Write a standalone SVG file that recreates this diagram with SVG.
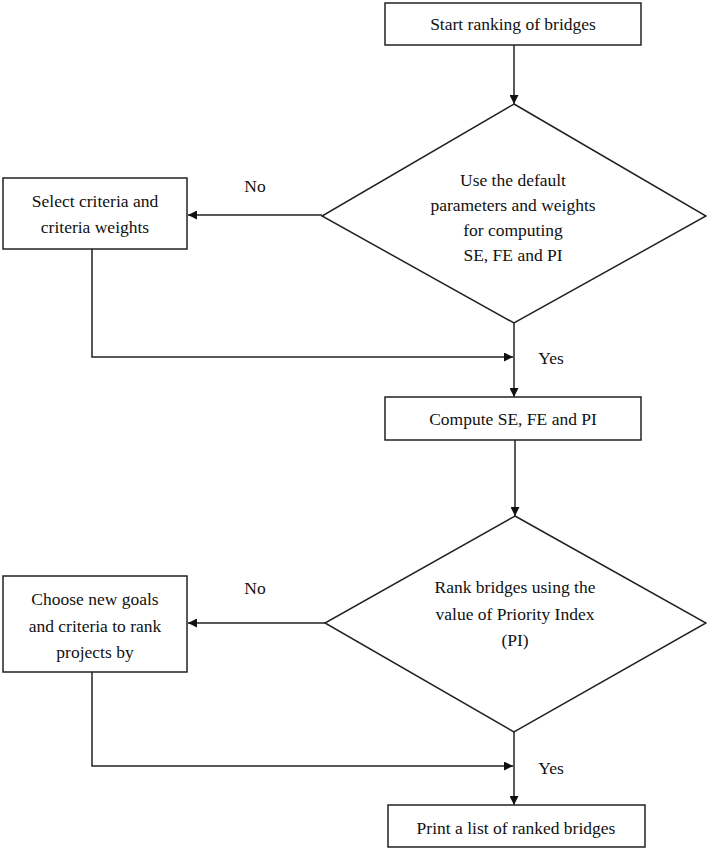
<svg xmlns="http://www.w3.org/2000/svg" width="707" height="849" viewBox="0 0 707 849">
<style>
.box{fill:#fff;stroke:#222;stroke-width:1.5}
.t{font-family:"Liberation Serif","Times New Roman",serif;font-size:17.5px;fill:#111;text-anchor:middle}
.c{fill:none;stroke:#222;stroke-width:1.5}
</style>
<defs>
<marker id="ah" viewBox="0 0 10 10" refX="10" refY="5" markerWidth="10" markerHeight="9" markerUnits="userSpaceOnUse" orient="auto">
<path d="M0,0 L10,5 L0,10 z" fill="#111"/>
</marker>
</defs>
<g id="connectors">
<path class="c" d="M514,45 V104" marker-end="url(#ah)"/>
<path class="c" d="M322,215 H188" marker-end="url(#ah)"/>
<path class="c" d="M92,249 V357 H513" marker-end="url(#ah)"/>
<path class="c" d="M514,323 V397" marker-end="url(#ah)"/>
<path class="c" d="M515,440 V516" marker-end="url(#ah)"/>
<path class="c" d="M325,623 H188" marker-end="url(#ah)"/>
<path class="c" d="M92,672 V766 H513" marker-end="url(#ah)"/>
<path class="c" d="M514,732 V805" marker-end="url(#ah)"/>
</g>
<g id="start">
<rect class="box" x="385" y="3" width="256" height="42"/>
<text class="t" x="513" y="30">Start ranking of bridges</text>
</g>
<g id="decision1">
<polygon class="box" points="514,104 706,216 514,323 322,216"/>
<text class="t" x="513" y="186">Use the default</text>
<text class="t" x="513" y="211">parameters and weights</text>
<text class="t" x="513" y="236">for computing</text>
<text class="t" x="513" y="261">SE, FE and PI</text>
</g>
<g id="select">
<rect class="box" x="3" y="178" width="184" height="71"/>
<text class="t" x="95" y="207">Select criteria and</text>
<text class="t" x="95" y="233">criteria weights</text>
</g>
<g id="labels1">
<text class="t" x="255" y="192">No</text>
<text class="t" x="551" y="364">Yes</text>
</g>
<g id="compute">
<rect class="box" x="385" y="397" width="256" height="43"/>
<text class="t" x="513" y="425">Compute SE, FE and PI</text>
</g>
<g id="decision2">
<polygon class="box" points="515,516 706,623 514,732 325,623"/>
<text class="t" x="515" y="593">Rank bridges using the</text>
<text class="t" x="515" y="620">value of Priority Index</text>
<text class="t" x="515" y="646">(PI)</text>
</g>
<g id="choose">
<rect class="box" x="3" y="576" width="184" height="96"/>
<text class="t" x="95" y="605">Choose new goals</text>
<text class="t" x="95" y="632">and criteria to rank</text>
<text class="t" x="95" y="658">projects by</text>
</g>
<g id="labels2">
<text class="t" x="255" y="594">No</text>
<text class="t" x="551" y="774">Yes</text>
</g>
<g id="print">
<rect class="box" x="388" y="805" width="257" height="42"/>
<text class="t" x="516" y="834">Print a list of ranked bridges</text>
</g>
</svg>
